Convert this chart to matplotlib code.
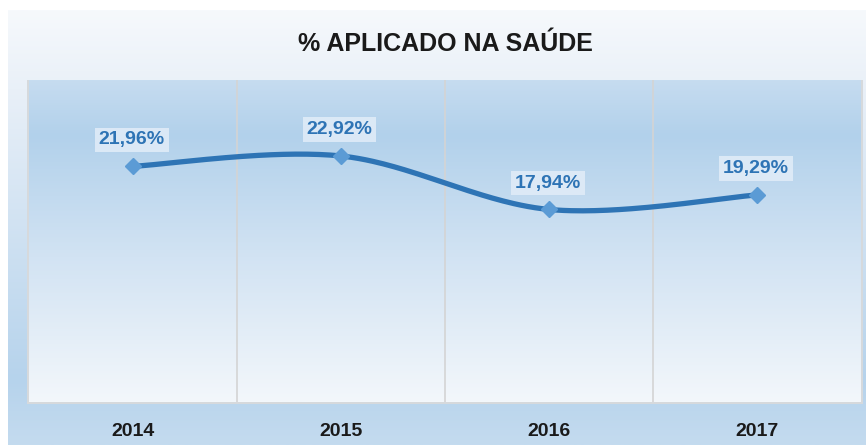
import numpy as np
import matplotlib
matplotlib.use("Agg")
import matplotlib.pyplot as plt
from matplotlib.colors import LinearSegmentedColormap

years = ["2014", "2015", "2016", "2017"]
pct = [21.96, 22.92, 17.94, 19.29]
labels = ["21,96%", "22,92%", "17,94%", "19,29%"]

plt.rcParams['font.family'] = ['Liberation Sans', 'DejaVu Sans']

W, H = 866, 445
fig = plt.figure(figsize=(W / 100, H / 100), dpi=100)
fig.patch.set_facecolor("white")

# outer background gradient (chart area)
bg = fig.add_axes([0, 0, 1, 1])
bg.set_xlim(0, W)
bg.set_ylim(H, 0)
bg.axis("off")
outer = LinearSegmentedColormap.from_list(
    "outer", [(0, "#f6f9fc"), (0.18, "#e9f0f8"), (0.85, "#b6d3ec"), (1, "#c4dbef")])
grad = np.linspace(0, 1, 256).reshape(-1, 1)
bg.imshow(grad, cmap=outer, extent=[8, W, H, 10], aspect="auto", origin="upper")
# light shadow around plot area
bg.add_patch(plt.Rectangle((27, 80), 836, 324, facecolor="#d6d9dc", edgecolor="none"))

# plot area
L, R, T, B = 29, 861, 80, 402
ax = fig.add_axes([L / W, (H - B) / H, (R - L) / W, (B - T) / H])
inner = LinearSegmentedColormap.from_list(
    "inner", [(0, "#c6dcf0"), (0.17, "#b2d1eb"), (0.55, "#d2e3f3"), (1, "#f3f7fb")])
ax.imshow(grad, cmap=inner, extent=[0, 1, 0, 1], transform=ax.transAxes,
          aspect="auto", origin="upper", zorder=0)

x = np.arange(len(years))
ax.set_xlim(-0.5, len(years) - 0.5)
ax.set_ylim(0, 30)

for gx in [0.5, 1.5, 2.5]:
    ax.axvline(gx, color="#d4d4d4", lw=1.2, zorder=1)

# smoothed line (Catmull-Rom through the data points)
px = np.concatenate([[x[0]], x, [x[-1]]]).astype(float)
py = np.concatenate([[pct[0]], pct, [pct[-1]]])
sx, sy = [], []
t = np.linspace(0, 1, 60)
for i in range(1, len(px) - 2):
    for arr, out in ((px, sx), (py, sy)):
        p0, p1, p2, p3 = arr[i - 1], arr[i], arr[i + 1], arr[i + 2]
        out.extend(0.5 * ((2 * p1) + (-p0 + p2) * t + (2 * p0 - 5 * p1 + 4 * p2 - p3) * t ** 2
                          + (-p0 + 3 * p1 - 3 * p2 + p3) * t ** 3))
ax.plot(sx, sy, color="#2e74b5", lw=3.8, solid_capstyle="round", zorder=3)
ax.plot(x, pct, linestyle="none", marker="D", ms=8, color="#5b9bd5", zorder=4)

for xi, yi, lab in zip(x, pct, labels):
    ax.annotate(lab, (xi, yi), xytext=(-1, 19), textcoords="offset points",
                ha="center", va="center", fontsize=14, fontweight="bold", color="#2e74b5",
                bbox=dict(boxstyle="square,pad=0.2", facecolor="#e2edf8", edgecolor="none", alpha=0.85),
                zorder=5)

ax.set_xticks(x)
ax.set_xticklabels(years, fontsize=14, fontweight="bold", color="#1a1a1a")
ax.tick_params(axis="x", length=0, pad=15)
ax.set_yticks([])
for s in ax.spines.values():
    s.set_visible(False)

ax.set_title("% APLICADO NA SAÚDE", fontsize=18, fontweight="bold", color="#1a1a1a", pad=21)

fig.savefig("out.png", dpi=100)
